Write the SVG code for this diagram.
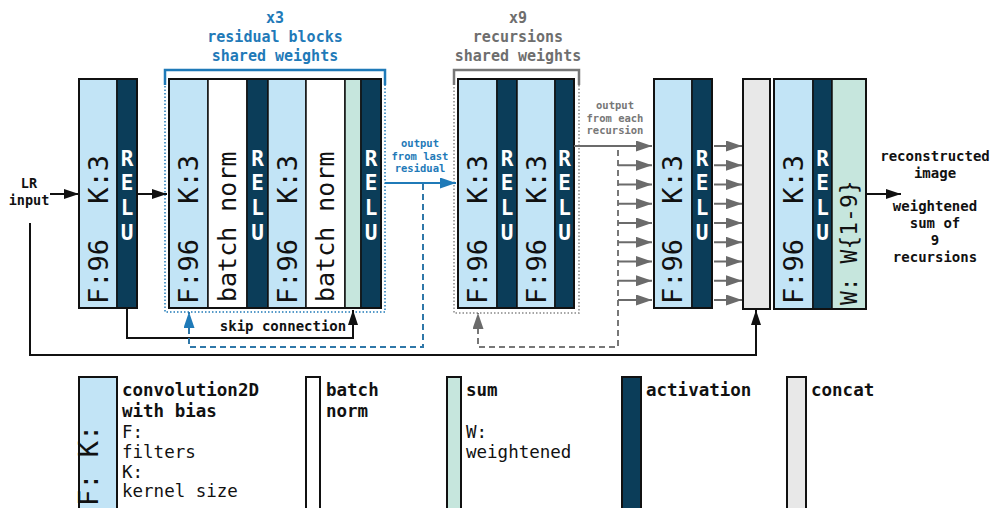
<svg xmlns="http://www.w3.org/2000/svg" width="993" height="508" viewBox="0 0 993 508">
<defs>
<style>
.conv{fill:#c2e4f6;stroke:#111;stroke-width:1.5}
.relu{fill:#0b3d59;stroke:#111;stroke-width:1.5}
.bn{fill:#fff;stroke:#111;stroke-width:1.5}
.sum{fill:#c6e6dd;stroke:#111;stroke-width:1.5}
.cat{fill:#e8e8e8;stroke:#111;stroke-width:2}
.frame{fill:none;stroke:#111;stroke-width:2}
.rot{font-family:"DejaVu Sans Mono",monospace;font-size:27px;fill:#111}
.bnt{font-family:"DejaVu Sans Mono",monospace;font-size:25px;fill:#111}
.wt{font-family:"DejaVu Sans Mono",monospace;font-size:23px;fill:#111}
.rl{font-family:"DejaVu Sans Mono",monospace;font-size:21px;font-weight:bold;fill:#fff;text-anchor:middle}
.t{font-family:"DejaVu Sans Mono",monospace;font-weight:bold;fill:#111}
.title{font-family:"DejaVu Sans Mono",monospace;font-weight:bold;font-size:15px;text-anchor:middle}
.small{font-family:"DejaVu Sans Mono",monospace;font-weight:bold;font-size:10.5px;text-anchor:middle}
.lg{font-family:"DejaVu Sans Mono",monospace;font-size:17.5px;fill:#111}
.ln{fill:none;stroke:#111;stroke-width:2}
.gl{fill:none;stroke:#6b6b6b;stroke-width:2}
</style>
<marker id="ab" markerUnits="userSpaceOnUse" markerWidth="15" markerHeight="10" refX="15" refY="5" orient="auto"><path d="M0,0 L15,5 L0,10 z" fill="#111"/></marker>
<marker id="ag" markerUnits="userSpaceOnUse" markerWidth="16" markerHeight="11" refX="16" refY="5.5" orient="auto"><path d="M0,0 L16,5.5 L0,11 z" fill="#6b6b6b"/></marker>
<marker id="au" markerUnits="userSpaceOnUse" markerWidth="16" markerHeight="11" refX="16" refY="5.5" orient="auto"><path d="M0,0 L16,5.5 L0,11 z" fill="#1f7ab8"/></marker>
</defs>
<rect width="993" height="508" fill="#fff"/>

<!-- titles -->
<g id="title-residual" class="title" fill="#1f7ab8">
<text x="275" y="23">x3</text>
<text x="275" y="42">residual blocks</text>
<text x="275" y="61">shared weights</text>
</g>
<g id="title-recursion" class="title" fill="#6e6e6e">
<text x="518" y="23">x9</text>
<text x="518" y="42">recursions</text>
<text x="518" y="61">shared weights</text>
</g>

<!-- brackets -->
<g id="bracket-residual">
<rect x="165" y="70" width="220" height="242" fill="none" stroke="#1f7ab8" stroke-width="1.5" stroke-dasharray="1.5,2"/>
<path d="M165,85 V70 H385 V85" fill="none" stroke="#1f7ab8" stroke-width="2.5"/>
</g>
<g id="bracket-recursion">
<rect x="454" y="70" width="125" height="243" fill="none" stroke="#888" stroke-width="1.5" stroke-dasharray="1.5,2"/>
<path d="M454,85 V70 H579 V85" fill="none" stroke="#777" stroke-width="2.5"/>
</g>

<!-- input label -->
<g id="lr-input" class="t" font-size="13.5" text-anchor="middle">
<text x="29" y="188">LR</text>
<text x="29" y="205">input</text>
</g>

<!-- block 1 -->
<g id="block1">
<rect class="conv" x="79" y="79" width="38" height="229"/>
<rect class="relu" x="117" y="79" width="20" height="229"/>
<rect class="frame" x="79" y="79" width="58" height="229"/>
<text class="rot" transform="translate(108,304) rotate(-90)">F:96</text>
<text class="rot" transform="translate(108,155) rotate(-90)" text-anchor="end">K:3</text>
<text class="rl"><tspan x="127" y="166">R</tspan><tspan x="127" y="190">E</tspan><tspan x="127" y="215">L</tspan><tspan x="127" y="240">U</tspan></text>
</g>

<!-- residual block -->
<g id="residual">
<rect class="conv" x="169" y="79" width="39" height="229"/>
<rect class="bn" x="208" y="79" width="39" height="229"/>
<rect class="relu" x="247" y="79" width="21" height="229"/>
<rect class="conv" x="268" y="79" width="38" height="229"/>
<rect class="bn" x="306" y="79" width="39" height="229"/>
<rect class="sum" x="345" y="79" width="16" height="229"/>
<rect class="relu" x="361" y="79" width="20" height="229"/>
<rect class="frame" x="169" y="79" width="212" height="229"/>
<text class="rot" transform="translate(198,304) rotate(-90)">F:96</text>
<text class="rot" transform="translate(198,155) rotate(-90)" text-anchor="end">K:3</text>
<text class="bnt" transform="translate(236,302) rotate(-90)">batch norm</text>
<text class="rl"><tspan x="257.5" y="166">R</tspan><tspan x="257.5" y="190">E</tspan><tspan x="257.5" y="215">L</tspan><tspan x="257.5" y="240">U</tspan></text>
<text class="rot" transform="translate(297,304) rotate(-90)">F:96</text>
<text class="rot" transform="translate(297,155) rotate(-90)" text-anchor="end">K:3</text>
<text class="bnt" transform="translate(334,302) rotate(-90)">batch norm</text>
<text class="rl"><tspan x="371" y="166">R</tspan><tspan x="371" y="190">E</tspan><tspan x="371" y="215">L</tspan><tspan x="371" y="240">U</tspan></text>
</g>

<!-- recursion block -->
<g id="recursion">
<rect class="conv" x="458" y="79" width="39" height="229"/>
<rect class="relu" x="497" y="79" width="20" height="229"/>
<rect class="conv" x="517" y="79" width="38" height="229"/>
<rect class="relu" x="555" y="79" width="19" height="229"/>
<rect class="frame" x="458" y="79" width="116" height="229"/>
<text class="rot" transform="translate(487,304) rotate(-90)">F:96</text>
<text class="rot" transform="translate(487,155) rotate(-90)" text-anchor="end">K:3</text>
<text class="rl"><tspan x="507" y="166">R</tspan><tspan x="507" y="190">E</tspan><tspan x="507" y="215">L</tspan><tspan x="507" y="240">U</tspan></text>
<text class="rot" transform="translate(546,304) rotate(-90)">F:96</text>
<text class="rot" transform="translate(546,155) rotate(-90)" text-anchor="end">K:3</text>
<text class="rl"><tspan x="564.5" y="166">R</tspan><tspan x="564.5" y="190">E</tspan><tspan x="564.5" y="215">L</tspan><tspan x="564.5" y="240">U</tspan></text>
</g>

<!-- block 3 -->
<g id="block3">
<rect class="conv" x="654" y="79" width="38" height="229"/>
<rect class="relu" x="692" y="79" width="20" height="229"/>
<rect class="frame" x="654" y="79" width="58" height="229"/>
<text class="rot" transform="translate(682,304) rotate(-90)">F:96</text>
<text class="rot" transform="translate(682,155) rotate(-90)" text-anchor="end">K:3</text>
<text class="rl"><tspan x="702" y="166">R</tspan><tspan x="702" y="190">E</tspan><tspan x="702" y="215">L</tspan><tspan x="702" y="240">U</tspan></text>
</g>

<!-- concat -->
<g id="concat">
<rect class="cat" x="743" y="79" width="27" height="230"/>
</g>

<!-- final block -->
<g id="final">
<rect class="conv" x="774" y="79" width="39" height="230"/>
<rect class="relu" x="813" y="79" width="19" height="230"/>
<rect class="sum" x="832" y="79" width="34" height="230"/>
<rect class="frame" x="774" y="79" width="92" height="230"/>
<text class="rot" transform="translate(803,304) rotate(-90)">F:96</text>
<text class="rot" transform="translate(803,155) rotate(-90)" text-anchor="end">K:3</text>
<text class="rl"><tspan x="822.5" y="166">R</tspan><tspan x="822.5" y="190">E</tspan><tspan x="822.5" y="215">L</tspan><tspan x="822.5" y="240">U</tspan></text>
<text class="wt" transform="translate(857,305) rotate(-90)">W: W{1-9}</text>
</g>

<!-- output labels -->
<g id="output-label" class="t" font-size="14" text-anchor="middle">
<text x="935" y="161">reconstructed</text>
<text x="935" y="178">image</text>
<text x="935" y="211">weightened</text>
<text x="935" y="228">sum of</text>
<text x="935" y="245">9</text>
<text x="935" y="262">recursions</text>
</g>

<!-- connectors -->
<g id="connectors">
<path class="ln" d="M50,194 H79" marker-end="url(#ab)"/>
<path class="ln" d="M137,194 H167" marker-end="url(#ab)"/>
<path class="ln" d="M127,308 V338 H353 V310" marker-end="url(#ab)"/>
<path d="M423,184 V347 H189 V312" fill="none" stroke="#2f77a8" stroke-width="2" stroke-dasharray="6,4" marker-end="url(#au)"/>
<path d="M385,183 H456" fill="none" stroke="#1f7ab8" stroke-width="2" marker-end="url(#au)"/>
<path d="M618,150 V347 H478 V313" fill="none" stroke="#777" stroke-width="2" stroke-dasharray="6,4" marker-end="url(#ag)"/>
<path class="gl" d="M574,146 H652" marker-end="url(#ag)"/>
<path class="gl" d="M618,165.25 H652" marker-end="url(#ag)"/>
<path class="gl" d="M618,184.5 H652" marker-end="url(#ag)"/>
<path class="gl" d="M618,203.75 H652" marker-end="url(#ag)"/>
<path class="gl" d="M618,223 H652" marker-end="url(#ag)"/>
<path class="gl" d="M618,242.25 H652" marker-end="url(#ag)"/>
<path class="gl" d="M618,261.5 H652" marker-end="url(#ag)"/>
<path class="gl" d="M618,280.75 H652" marker-end="url(#ag)"/>
<path class="gl" d="M618,300 H652" marker-end="url(#ag)"/>
<path class="gl" d="M714,146 H742" marker-end="url(#ag)"/>
<path class="gl" d="M714,165.25 H742" marker-end="url(#ag)"/>
<path class="gl" d="M714,184.5 H742" marker-end="url(#ag)"/>
<path class="gl" d="M714,203.75 H742" marker-end="url(#ag)"/>
<path class="gl" d="M714,223 H742" marker-end="url(#ag)"/>
<path class="gl" d="M714,242.25 H742" marker-end="url(#ag)"/>
<path class="gl" d="M714,261.5 H742" marker-end="url(#ag)"/>
<path class="gl" d="M714,280.75 H742" marker-end="url(#ag)"/>
<path class="gl" d="M714,300 H742" marker-end="url(#ag)"/>
<path class="ln" d="M30,223 V355 H756 V310" marker-end="url(#ab)"/>
<path class="ln" d="M866,194 H901" marker-end="url(#ab)"/>
<text class="t" x="283" y="331" font-size="14" text-anchor="middle">skip connection</text>
<g class="small" fill="#1f7ab8">
<text x="420" y="147">output</text>
<text x="420" y="159.5">from last</text>
<text x="420" y="171.5">residual</text>
</g>
<g class="small" fill="#777">
<text x="615" y="109">output</text>
<text x="615" y="121.5">from each</text>
<text x="615" y="133.5">recursion</text>
</g>
</g>

<!-- legend -->
<g id="legend-conv">
<rect x="79" y="377" width="38" height="150" fill="#c2e4f6" stroke="#111" stroke-width="2"/>
<text class="rot" font-size="23" transform="translate(98,506) rotate(-90)">F: K:</text>
<text class="lg" x="122" y="396" font-weight="bold">convolution2D</text>
<text class="lg" x="122" y="417" font-weight="bold">with bias</text>
<text class="lg" x="122" y="438">F:</text>
<text class="lg" x="122" y="458">filters</text>
<text class="lg" x="122" y="478">K:</text>
<text class="lg" x="122" y="497">kernel size</text>
</g>
<g id="legend-bn">
<rect x="306" y="377" width="14" height="150" fill="#fff" stroke="#111" stroke-width="2"/>
<text class="lg" x="326" y="396" font-weight="bold">batch</text>
<text class="lg" x="326" y="417" font-weight="bold">norm</text>
</g>
<g id="legend-sum">
<rect x="447" y="377" width="14" height="150" fill="#c6e6dd" stroke="#111" stroke-width="2"/>
<text class="lg" x="466" y="396" font-weight="bold">sum</text>
<text class="lg" x="466" y="438">W:</text>
<text class="lg" x="466" y="458">weightened</text>
</g>
<g id="legend-act">
<rect x="622" y="377" width="19" height="150" fill="#0b3d59" stroke="#111" stroke-width="2"/>
<text class="lg" x="646" y="396" font-weight="bold">activation</text>
</g>
<g id="legend-cat">
<rect x="787" y="377" width="19" height="150" fill="#e8e8e8" stroke="#111" stroke-width="2"/>
<text class="lg" x="811" y="396" font-weight="bold">concat</text>
</g>
</svg>
